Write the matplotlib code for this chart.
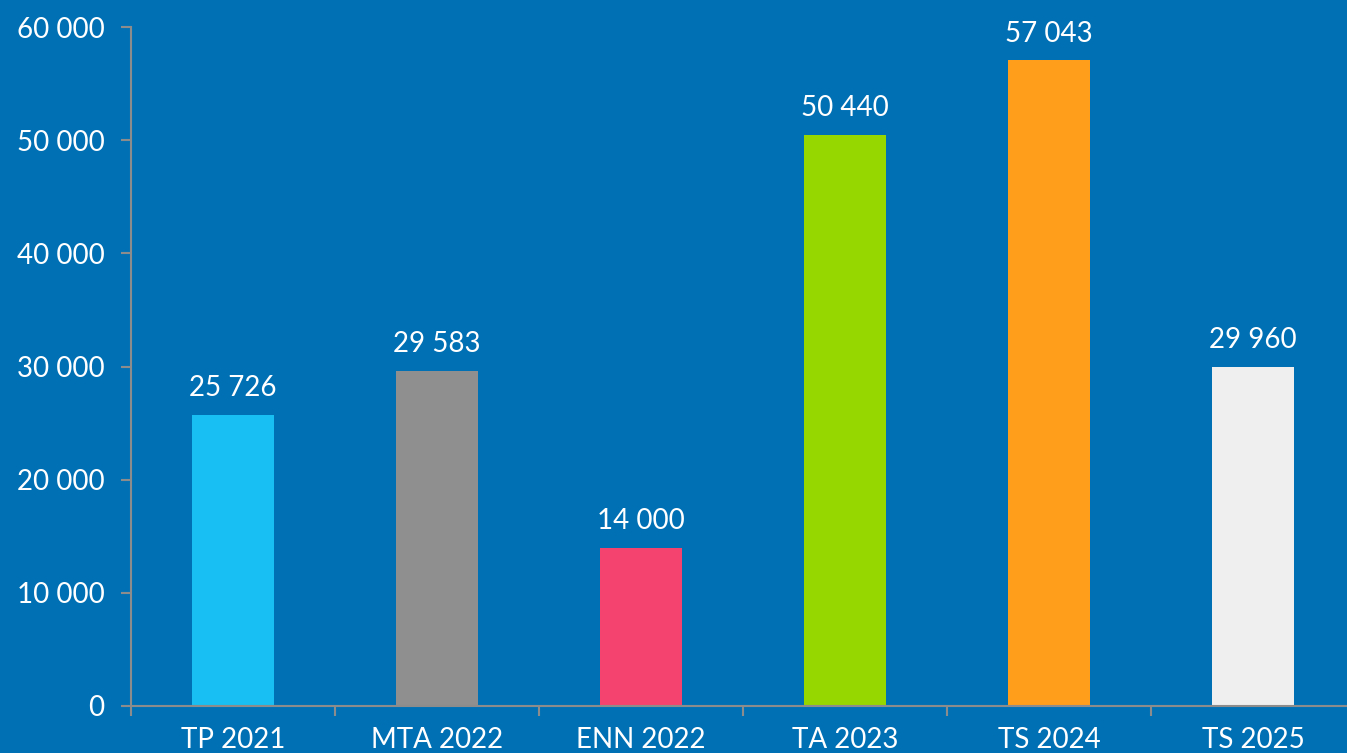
import numpy as np
import matplotlib.pyplot as plt
from matplotlib.ticker import FuncFormatter

categories = ["TP 2021", "MTA 2022", "ENN 2022", "TA 2023", "TS 2024", "TS 2025"]
values = [25726, 29583, 14000, 50440, 57043, 29960]
colors = ["#17BFF2", "#8F8F8F", "#F4436E", "#97D700", "#FF9E1B", "#EFEFEF"]
yticks = [0, 10000, 20000, 30000, 40000, 50000, 60000]

bg = "#0070B5"
axis_grey = "#8C8C8C"


def fmt(v, pos=None):
    return f"{int(v):,}".replace(",", " ")


plt.rcParams['font.family'] = ['Lato', 'DejaVu Sans']

fig = plt.figure(figsize=(13.47, 7.53), dpi=100, facecolor=bg)
ax = fig.add_axes([131 / 1347, 47 / 753, 1224 / 1347, 679 / 753])
ax.set_facecolor(bg)

x = np.arange(len(categories))
bars = ax.bar(x, values, width=0.40, color=colors, zorder=2)

for xi, v in zip(x, values):
    ax.annotate(fmt(v), (xi, v), xytext=(0, 10), textcoords="offset points",
                ha="center", va="bottom", color="white", fontsize=20)

ax.set_xlim(-0.5, len(categories) - 0.5)
ax.set_ylim(0, 60000)
ax.set_yticks(yticks)
ax.yaxis.set_major_formatter(FuncFormatter(fmt))

# category labels centred, tick marks on the boundaries
ax.set_xticks(x)
ax.set_xticklabels(categories)
ax.set_xticks(np.arange(-0.5, len(categories)), minor=True)
ax.tick_params(axis="x", which="major", length=0, pad=15, labelsize=20, labelcolor="white")
ax.tick_params(axis="x", which="minor", length=7, width=1.5, color=axis_grey, direction="out")
ax.tick_params(axis="y", length=7, width=1.5, color=axis_grey, pad=12, labelsize=20, labelcolor="white")

for side in ["top", "right"]:
    ax.spines[side].set_visible(False)
for side in ["left", "bottom"]:
    ax.spines[side].set_color(axis_grey)
    ax.spines[side].set_linewidth(1.5)

fig.savefig("out.png", dpi=100, facecolor=bg)
